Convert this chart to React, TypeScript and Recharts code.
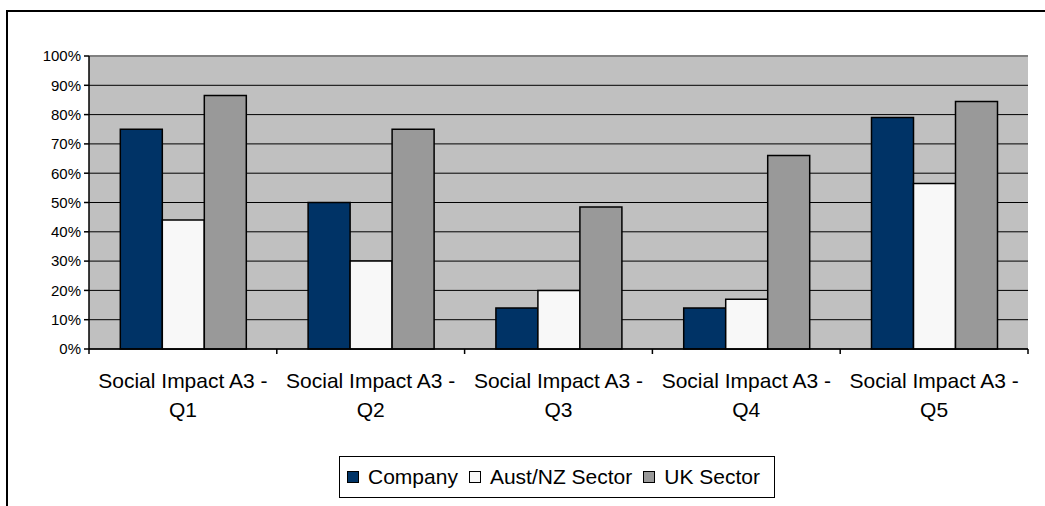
import React from 'react';
import { BarChart, Bar, XAxis, YAxis, CartesianGrid, ReferenceLine } from 'recharts';

const categories = [
  'Social Impact A3 - Q1',
  'Social Impact A3 - Q2',
  'Social Impact A3 - Q3',
  'Social Impact A3 - Q4',
  'Social Impact A3 - Q5',
];
const companyValues = [0.75, 0.5, 0.14, 0.14, 0.79];
const austNzValues = [0.44, 0.3, 0.2, 0.17, 0.565];
const ukValues = [0.865, 0.75, 0.485, 0.66, 0.845];
const seriesNames = ['Company', 'Aust/NZ Sector', 'UK Sector'];
const seriesColors = ['#003366', '#F8F8F8', '#999999'];
const yTicks = [0, 0.1, 0.2, 0.3, 0.4, 0.5, 0.6, 0.7, 0.8, 0.9, 1];

const data = categories.map((c, i) => ({
  category: c,
  company: companyValues[i],
  austNz: austNzValues[i],
  uk: ukValues[i],
}));

const FONT = '"Liberation Sans", Arial, sans-serif';
const W = 1045;
const H = 506;
const PLOT_LEFT = 89;
const PLOT_RIGHT = 1028;
const PLOT_TOP = 56;
const PLOT_BOTTOM = 349;
const X_AXIS_H = 90;
const BAND = (PLOT_RIGHT - PLOT_LEFT) / categories.length;

const XTick = (props: any) => {
  const { x, y, payload, index } = props;
  const half = BAND / 2;
  const label: string = payload.value;
  const idx = label.lastIndexOf(' ');
  const line1 = label.slice(0, idx);
  const line2 = label.slice(idx + 1);
  return (
    <g>
      <line x1={x - half} x2={x - half} y1={y} y2={y + 5} stroke="#000" strokeWidth={1.5} />
      {index === categories.length - 1 && (
        <line x1={x + half} x2={x + half} y1={y} y2={y + 5} stroke="#000" strokeWidth={1.5} />
      )}
      <text textAnchor="middle" fontSize={21} fontFamily={FONT} fill="#000">
        <tspan x={x} y={y + 39}>{line1}</tspan>
        <tspan x={x} y={y + 68}>{line2}</tspan>
      </text>
    </g>
  );
};

const keys = ['company', 'austNz', 'uk'];

export default function App() {
  return (
    <div style={{ position: 'absolute', left: 0, top: 0, width: W, height: H, overflow: 'hidden', background: '#fff' }}>
      <div
        style={{
          position: 'absolute',
          left: 6,
          top: 10,
          width: 1200,
          height: 700,
          border: '2px solid #000',
        }}
      />
      <div style={{ position: 'absolute', left: 0, top: 0 }}>
        <BarChart
          width={W}
          height={H}
          data={data}
          margin={{ top: PLOT_TOP, right: W - PLOT_RIGHT, left: 0, bottom: H - PLOT_BOTTOM - X_AXIS_H }}
          barCategoryGap="16.67%"
          barGap={0}
        >
          <CartesianGrid vertical={false} stroke="#000" strokeWidth={1} fill="#C0C0C0" fillOpacity={1} />
          <XAxis
            dataKey="category"
            height={X_AXIS_H}
            tickLine={false}
            tickSize={0}
            tickMargin={0}
            axisLine={{ stroke: '#000', strokeWidth: 1.5 }}
            tick={<XTick />}
            interval={0}
          />
          <YAxis
            width={PLOT_LEFT}
            domain={[0, 1]}
            ticks={yTicks}
            tickFormatter={(v: number) => `${Math.round(v * 100)}%`}
            tickSize={5}
            tickMargin={3}
            tickLine={{ stroke: '#000', strokeWidth: 1.5 }}
            axisLine={{ stroke: '#000', strokeWidth: 1.5 }}
            tick={{ fontSize: 15, fontFamily: FONT, fill: '#000' }}
            interval={0}
          />
          <YAxis
            yAxisId="right"
            orientation="right"
            width={0}
            tick={false}
            tickLine={false}
            axisLine={{ stroke: '#808080', strokeWidth: 2 }}
          />
          <ReferenceLine y={1} stroke="#808080" strokeWidth={2} />
          {keys.map((k, i) => (
            <Bar
              key={k}
              dataKey={k}
              name={seriesNames[i]}
              fill={seriesColors[i]}
              stroke="#000"
              strokeWidth={1.5}
              isAnimationActive={false}
            />
          ))}
        </BarChart>
      </div>
      <div
        style={{
          position: 'absolute',
          left: 339,
          top: 456,
          width: 436,
          height: 42,
          boxSizing: 'border-box',
          border: '1.5px solid #000',
          display: 'flex',
          alignItems: 'center',
          paddingLeft: 7,
          fontFamily: FONT,
          fontSize: 21,
          color: '#000',
          whiteSpace: 'nowrap',
        }}
      >
        {seriesNames.map((n, i) => (
          <div key={n} style={{ display: 'flex', alignItems: 'center', marginRight: 11 }}>
            <div
              style={{
                width: 12,
                height: 12,
                boxSizing: 'border-box',
                border: '1.5px solid #000',
                background: seriesColors[i],
                marginRight: 9,
              }}
            />
            <span>{n}</span>
          </div>
        ))}
      </div>
    </div>
  );
}
